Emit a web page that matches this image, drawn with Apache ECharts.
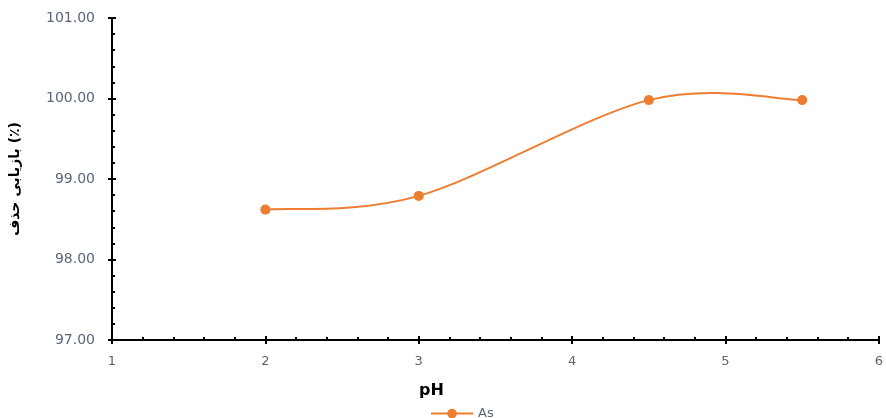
<!DOCTYPE html>
<html>
<head>
<meta charset="utf-8">
<script src="https://cdn.jsdelivr.net/npm/echarts@6/dist/echarts.min.js"></script>
<style>
html,body{margin:0;padding:0;background:#fff;}
#chart{width:886px;height:418px;}
</style>
</head>
<body>
<div id="chart"></div>
<script>
var xValues = [2, 3, 4.5, 5.5];
var asValues = [98.62, 98.79, 99.98, 99.98];
var seriesName = 'As';
var xTitle = 'pH';
var yTitle = 'بازیابی حذف (٪)';

var chart = echarts.init(document.getElementById('chart'));
var labelColor = '#5b6579';
var lineColor = '#ED7D31';
var fontFam = '"DejaVu Sans", sans-serif';
var points = xValues.map(function (x, i) { return [x, asValues[i]]; });

var baseX = {
  type: 'value', min: 1, max: 6, interval: 1, position: 'bottom',
  axisLine: {show: true, onZero: false, lineStyle: {color: '#000', width: 2}},
  splitLine: {show: false}
};
var baseY = {
  type: 'value', min: 97, max: 101, interval: 1, position: 'left',
  axisLine: {show: true, onZero: false, lineStyle: {color: '#000', width: 2}},
  splitLine: {show: false}
};

// Excel-style smoothed curve through the data points (Bezier, Catmull-Rom control points)
function renderCurve(params, api) {
  if (params.dataIndex !== 0) return null;
  var px = points.map(function (p) { return api.coord(p); });
  var n = px.length;
  var d = 'M' + px[0][0] + ' ' + px[0][1];
  for (var i = 0; i < n - 1; i++) {
    var p0 = px[Math.max(i - 1, 0)], p1 = px[i], p2 = px[i + 1], p3 = px[Math.min(i + 2, n - 1)];
    var c1x = p1[0] + (p2[0] - p0[0]) / 6, c1y = p1[1] + (p2[1] - p0[1]) / 6;
    var c2x = p2[0] - (p3[0] - p1[0]) / 6, c2y = p2[1] - (p3[1] - p1[1]) / 6;
    d += ' C' + c1x + ' ' + c1y + ' ' + c2x + ' ' + c2y + ' ' + p2[0] + ' ' + p2[1];
  }
  return {
    type: 'path',
    shape: {pathData: d},
    style: {fill: null, stroke: lineColor, lineWidth: 2}
  };
}

var option = {
  animation: false,
  backgroundColor: '#fff',
  grid: {left: 112, right: 3, top: 18, bottom: 78, containLabel: false},
  title: {
    text: xTitle, left: 414, top: 378,
    textStyle: {fontFamily: fontFam, fontWeight: 'bold', fontSize: 16, color: '#000'}
  },
  legend: {
    data: [{name: seriesName, lineStyle: {opacity: 1, color: lineColor, width: 2}}],
    left: 430, top: 407, padding: 0, itemWidth: 42, itemHeight: 12, itemGap: 5,
    textStyle: {fontFamily: fontFam, fontSize: 13, color: labelColor}
  },
  xAxis: [
    Object.assign({}, baseX, {
      axisTick: {show: true, inside: true, length: 4, lineStyle: {color: '#000', width: 2}},
      minorTick: {show: true, splitNumber: 5, length: 3, lineStyle: {color: '#000', width: 2}},
      axisLabel: {show: true, margin: 15, color: labelColor, fontFamily: fontFam, fontSize: 13}
    }),
    Object.assign({}, baseX, {
      axisTick: {show: true, inside: false, length: 4, lineStyle: {color: '#000', width: 2}},
      axisLabel: {show: false}
    })
  ],
  yAxis: [
    Object.assign({}, baseY, {
      name: yTitle, nameLocation: 'middle', nameGap: 90, nameRotate: 90,
      nameTextStyle: {fontFamily: fontFam, fontWeight: 'bold', fontSize: 14, color: '#000'},
      axisTick: {show: true, inside: true, length: 4, lineStyle: {color: '#000', width: 2}},
      minorTick: {show: true, splitNumber: 5, length: 3, lineStyle: {color: '#000', width: 2}},
      axisLabel: {show: true, margin: 17, color: labelColor, fontFamily: fontFam, fontSize: 14,
        formatter: function (v) { return v.toFixed(2); }}
    }),
    Object.assign({}, baseY, {
      axisTick: {show: true, inside: false, length: 4, lineStyle: {color: '#000', width: 2}},
      axisLabel: {show: false}
    })
  ],
  series: [{
    name: 'curve',
    type: 'custom',
    xAxisIndex: 0, yAxisIndex: 0,
    data: points,
    renderItem: renderCurve,
    z: 1,
    silent: true
  }, {
    name: seriesName,
    type: 'line',
    xAxisIndex: 0, yAxisIndex: 0,
    data: points,
    symbol: 'circle', symbolSize: 10,
    itemStyle: {color: lineColor},
    lineStyle: {color: lineColor, width: 2, opacity: 0},
    z: 3
  }]
};
chart.setOption(option);
</script>
</body>
</html>
